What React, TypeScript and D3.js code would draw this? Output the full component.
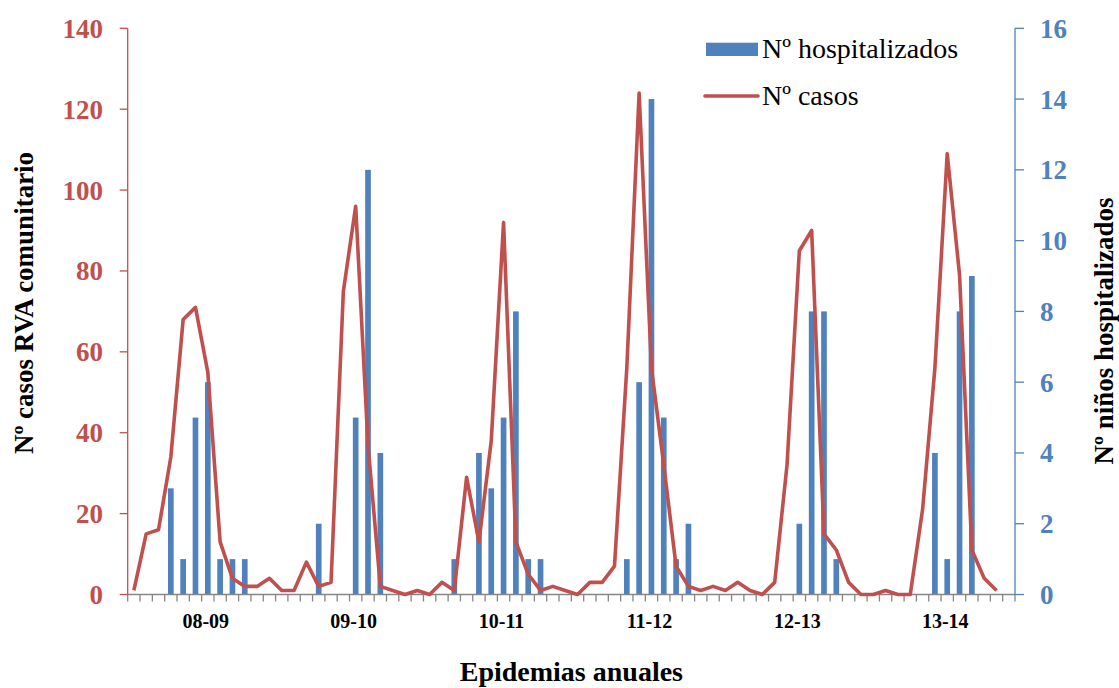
import React from 'react';
import * as d3 from 'd3';

// one entry per month, six epidemic seasons of 12 months
const seasons = ['08-09', '09-10', '10-11', '11-12', '12-13', '13-14'];
const months = seasons.flatMap(s => d3.range(12).map(m => `${s}|${m}`));

// Nº casos RVA comunitario (left axis)
const casos = [
  1, 15, 16, 34, 68, 71, 55, 13, 4, 2, 2, 4,
  1, 1, 8, 2, 3, 75, 96, 37, 2, 1, 0, 1,
  0, 3, 1, 29, 13, 38, 92, 13, 5, 1, 2, 1,
  0, 3, 3, 7, 56, 124, 56, 32, 7, 2, 1, 2,
  1, 3, 1, 0, 3, 32, 85, 90, 15, 11, 3, 0,
  0, 1, 0, 0, 21, 56, 109, 79, 11, 4, 1, null,
];

// Nº niños hospitalizados (right axis)
const hospitalizados = [
  0, 0, 0, 3, 1, 5, 6, 1, 1, 1, 0, 0,
  0, 0, 0, 2, 0, 0, 5, 12, 4, 0, 0, 0,
  0, 0, 1, 0, 4, 3, 5, 8, 1, 1, 0, 0,
  0, 0, 0, 0, 1, 6, 14, 5, 1, 2, 0, 0,
  0, 0, 0, 0, 0, 0, 2, 8, 8, 1, 0, 0,
  0, 0, 0, 0, 0, 4, 1, 8, 9, 0, 0, 0,
];

const leftTicks = [0, 20, 40, 60, 80, 100, 120, 140];
const rightTicks = [0, 2, 4, 6, 8, 10, 12, 14, 16];

const RED = '#C0504D';
const BLUE = '#4F81BD';
const FONT = '"Liberation Serif", "Times New Roman", serif';

export default function App() {
  const width = 1119;
  const height = 688;
  const left = 127.7, right = 1015, top = 28.3, bottom = 594.5;

  const xCat = d3.scaleBand<string>().domain(months).range([left, right]).padding(0);
  const xBar = d3.scaleBand<string>().domain(months).range([left, right])
    .paddingInner(0.54).paddingOuter(0.27);
  const yL = d3.scaleLinear().domain([0, 140]).range([bottom, top]);
  const yR = d3.scaleLinear().domain([0, 16]).range([bottom, top]);

  const center = (m: string) => (xCat(m) as number) + xCat.bandwidth() / 2;

  const line = d3.line<number | null>()
    .defined(d => d != null)
    .x((d, i) => center(months[i]))
    .y(d => yL(d as number));

  const tickXs = months.map(m => xCat(m) as number).concat([right]);

  return (
    <div style={{ position: 'absolute', left: 0, top: 0 }}>
      <svg width={width} height={height} style={{ display: 'block', background: '#fff' }} fontFamily={FONT}>

        {/* bars */}
        {hospitalizados.map((v, i) => v > 0 && (
          <rect
            key={'b' + i}
            x={xBar(months[i])}
            y={yR(v)}
            width={xBar.bandwidth()}
            height={bottom - yR(v)}
            fill={BLUE}
          />
        ))}

        {/* x axis */}
        <line x1={left} x2={right} y1={bottom} y2={bottom} stroke='#868686' strokeWidth={1.3} />
        {tickXs.map((x, i) => (
          <line key={'xt' + i} x1={x} x2={x} y1={bottom} y2={bottom + 7} stroke='#868686' strokeWidth={1.3} />
        ))}
        {months.map(m => {
          const [s, k] = m.split('|');
          if (k !== '6') return null;
          return (
            <text key={'xl' + m} x={center(m) - 2} y={628} textAnchor='middle'
              fontSize={20} fontWeight='bold' fill='#000'>{s}</text>
          );
        })}

        {/* line */}
        <path d={line(casos) || ''} fill='none' stroke={RED} strokeWidth={3.6} strokeLinejoin='round' />

        {/* left axis */}
        <line x1={left} x2={left} y1={top} y2={bottom} stroke={RED} strokeWidth={1.3} />
        {leftTicks.map(t => (
          <g key={'lt' + t}>
            <line x1={left - 8} x2={left} y1={yL(t)} y2={yL(t)} stroke={RED} strokeWidth={1.3} />
            <text x={103} y={yL(t)} dy='0.35em' textAnchor='end' fontSize={27} fontWeight='bold' fill={RED}>{t}</text>
          </g>
        ))}

        {/* right axis */}
        <line x1={right} x2={right} y1={top} y2={bottom} stroke={BLUE} strokeWidth={1.3} />
        {rightTicks.map(t => (
          <g key={'rt' + t}>
            <line x1={right} x2={right + 9} y1={yR(t)} y2={yR(t)} stroke={BLUE} strokeWidth={1.3} />
            <text x={1040} y={yR(t)} dy='0.35em' textAnchor='start' fontSize={27} fontWeight='bold' fill={BLUE}>{t}</text>
          </g>
        ))}

        {/* axis titles */}
        <text transform='translate(33,303) rotate(-90)' textAnchor='middle' fontSize={27} fontWeight='bold' fill='#000'>
          Nº casos RVA comunitario
        </text>
        <text transform='translate(1113,331) rotate(-90)' textAnchor='middle' fontSize={27} fontWeight='bold' fill='#000'>
          Nº niños hospitalizados
        </text>
        <text x={(left + right) / 2} y={681} textAnchor='middle' fontSize={28} fontWeight='bold' fill='#000'>
          Epidemias anuales
        </text>

        {/* legend */}
        <rect x={706} y={42.7} width={52} height={13.3} fill={BLUE} />
        <text x={762} y={57.5} fontSize={28} fill='#000'>Nº hospitalizados</text>
        <line x1={705} x2={758} y1={96} y2={96} stroke={RED} strokeWidth={3.6} strokeLinecap='round' />
        <text x={762} y={105} fontSize={28} fill='#000'>Nº casos</text>
      </svg>
    </div>
  );
}
